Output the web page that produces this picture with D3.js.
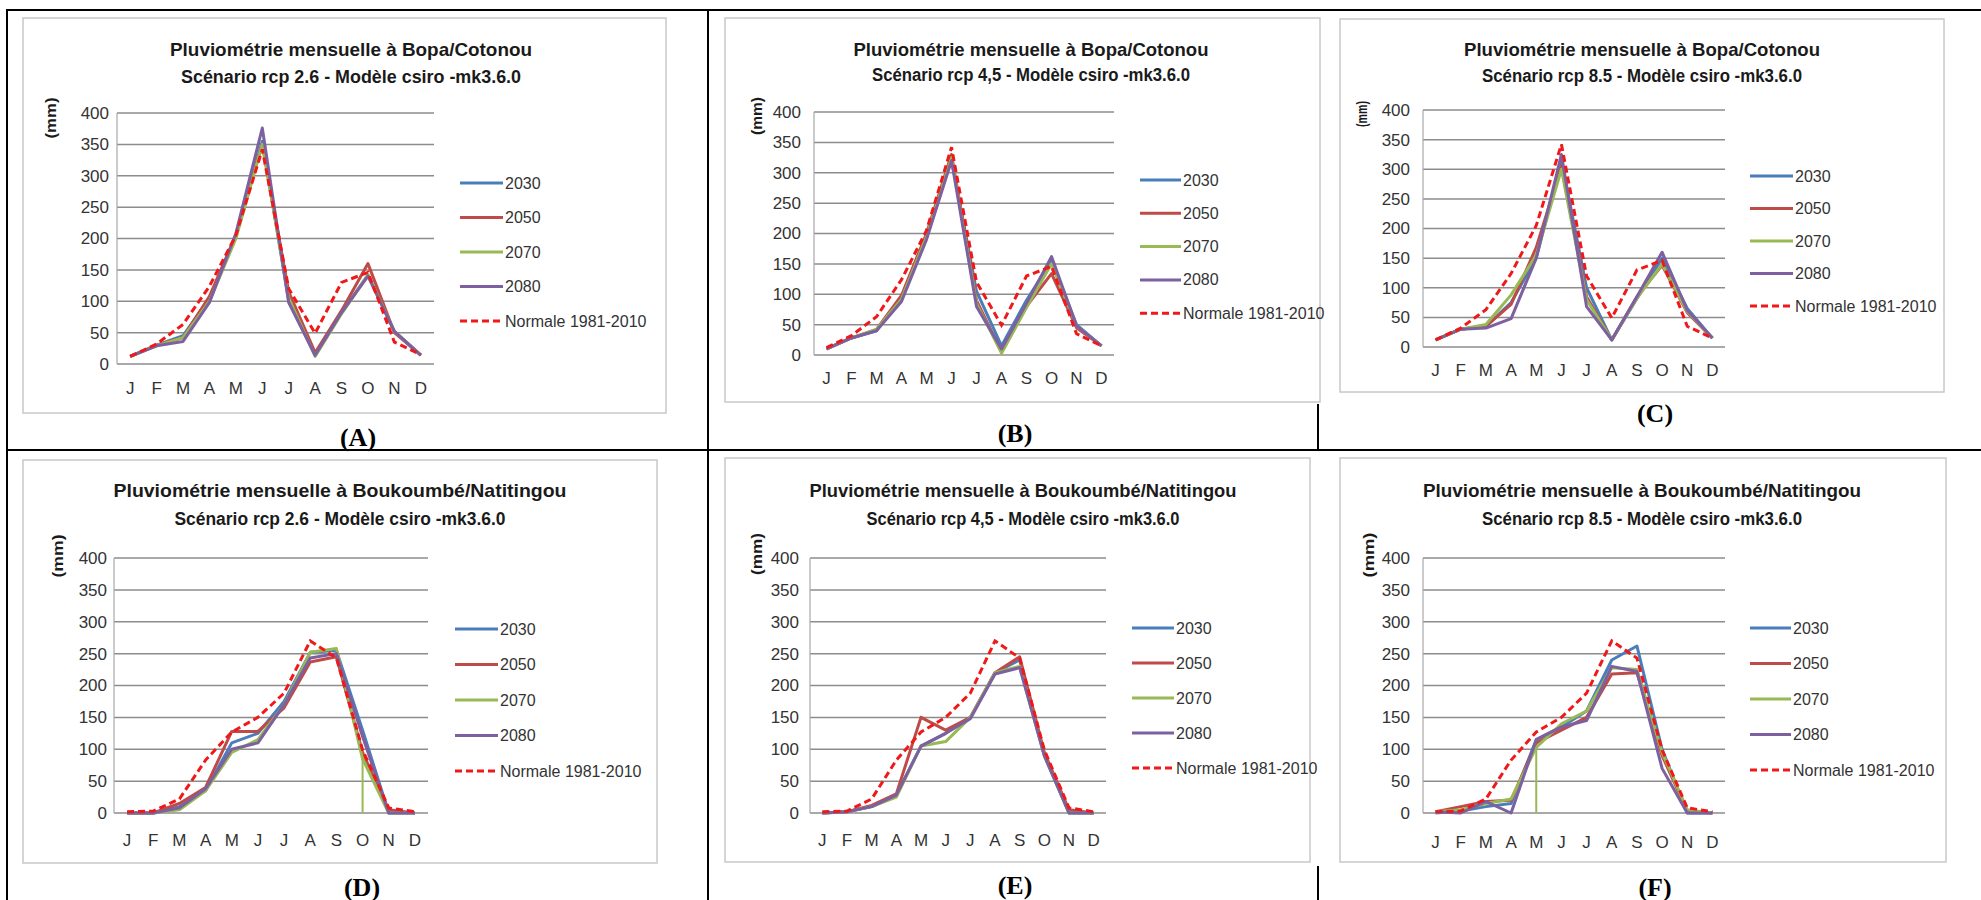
<!DOCTYPE html>
<html>
<head>
<meta charset="utf-8">
<script src="https://cdn.jsdelivr.net/npm/d3@7"></script>
<style>
  body { margin: 0; background: #fff; }
  svg { display: block; }
</style>
</head>
<body>
<svg id="fig"></svg>
<script>
const mois = ['J', 'F', 'M', 'A', 'M', 'J', 'J', 'A', 'S', 'O', 'N', 'D'];
const annees = ['2030', '2050', '2070', '2080'];
const normaleLabel = 'Normale 1981-2010';
const yTicks = [0, 50, 100, 150, 200, 250, 300, 350, 400];

const stations = ['Bopa/Cotonou', 'Boukoumbé/Natitingou'];
const scenarios = ['rcp 2.6', 'rcp 4,5', 'rcp 8.5'];
const lettres = ['A', 'B', 'C', 'D', 'E', 'F'];

// normales 1981-2010 (mm)
const normaleBopa = [12, 32, 63, 124, 205, 342, 120, 49, 130, 146, 35, 15];
const normaleBoukoumbe = [2, 3, 22, 83, 127, 150, 188, 270, 243, 99, 8, 2];

// projections, une ligne par horizon : 2030, 2050, 2070, 2080
const bopa26 = [
  [12, 30, 45, 105, 205, 355, 100, 15, 82, 142, 52, 14],
  [12, 30, 42, 108, 205, 350, 115, 18, 85, 160, 50, 14],
  [12, 29, 42, 100, 200, 350, 105, 12, 80, 142, 52, 14],
  [12, 29, 36, 98, 208, 376, 98, 14, 82, 140, 52, 14]
];
const bopa45 = [
  [10, 28, 40, 95, 195, 322, 105, 15, 90, 155, 50, 15],
  [10, 28, 42, 98, 200, 330, 90, 5, 80, 134, 45, 15],
  [10, 28, 42, 92, 195, 325, 85, 3, 78, 150, 48, 15],
  [10, 28, 40, 88, 190, 320, 80, 10, 85, 162, 48, 15]
];
const bopa85 = [
  [12, 30, 35, 75, 150, 315, 100, 12, 82, 150, 65, 15],
  [12, 30, 35, 72, 168, 305, 85, 12, 85, 138, 58, 15],
  [12, 30, 38, 88, 155, 300, 80, 12, 82, 140, 60, 15],
  [12, 30, 32, 48, 150, 325, 68, 12, 85, 160, 62, 15]
];
const bouk26 = [
  [0, 0, 10, 35, 110, 125, 175, 252, 255, 130, 0, 0],
  [0, 0, 15, 40, 128, 128, 165, 237, 245, 95, 5, 0],
  [0, 0, 5, 35, 95, 115, 170, 252, 258, 85, 0, 0],
  [0, 0, 8, 38, 100, 110, 170, 243, 250, 120, 0, 0]
];
const bouk45 = [
  [0, 2, 10, 28, 105, 125, 150, 220, 240, 90, 0, 0],
  [0, 2, 12, 30, 150, 130, 150, 220, 245, 95, 5, 0],
  [0, 2, 10, 25, 105, 112, 150, 220, 230, 90, 0, 0],
  [0, 2, 10, 28, 105, 125, 148, 218, 228, 90, 0, 0]
];
const bouk85 = [
  [0, 3, 10, 15, 115, 135, 160, 240, 262, 100, 0, 0],
  [2, 10, 18, 20, 110, 130, 150, 218, 220, 90, 3, 0],
  [2, 5, 15, 22, 103, 140, 160, 228, 225, 95, 5, 0],
  [2, 0, 18, 0, 115, 135, 145, 230, 222, 70, 0, 0]
];
// mois où la série 2070 tombe verticalement à 0 (D et F)
const chute2070 = [null, null, null, 9, null, 4];

const series = [bopa26, bopa45, bopa85, bouk26, bouk45, bouk85];
const normales = [normaleBopa, normaleBopa, normaleBopa, normaleBoukoumbe, normaleBoukoumbe, normaleBoukoumbe];

const couleurs = ['#4a7ebb', '#be4b48', '#98b954', '#7d60a0'];
const rouge = '#f01818';

const [width, height] = [1981, 900];
const svg = d3.select('#fig').attr('width', width).attr('height', height);

// mise en page de chaque graphique (pixels)
const cadres = [
  { frame: [23, 18, 666, 413], plot: [117, 434, 364, 113], titre: [351, 49, 77, 362, 340], mm: [50, 118, 41], tickX: 109, moisY: 388, leg: [460, 503, 183, 34.5], lab: [358, 437] },
  { frame: [725, 18, 1320, 402], plot: [814, 1114, 355, 112], titre: [1031, 49, 75, 355, 318], mm: [756, 116, 38], tickX: 801, moisY: 378, leg: [1140, 1181, 180, 33.3], lab: [1015, 433] },
  { frame: [1340, 19, 1944, 392], plot: [1423, 1725, 347, 110], titre: [1642, 49, 76, 356, 320], mm: [1361, 114, 26], tickX: 1410, moisY: 370, leg: [1750, 1793, 176, 32.5], lab: [1655, 413] },
  { frame: [23, 460, 657, 863], plot: [114, 428, 813, 558], titre: [340, 490, 519, 453, 331], mm: [57, 556, 43], tickX: 107, moisY: 840, leg: [455, 498, 629, 35.5], lab: [362, 887] },
  { frame: [725, 458, 1310, 862], plot: [810, 1106, 813, 558], titre: [1023, 490, 519, 427, 313], mm: [756, 554, 42], tickX: 799, moisY: 840, leg: [1132, 1174, 628, 35], lab: [1015, 885] },
  { frame: [1340, 458, 1946, 862], plot: [1423, 1725, 813, 558], titre: [1642, 490, 519, 438, 320], mm: [1368, 555, 45], tickX: 1410, moisY: 842, leg: [1750, 1791, 628, 35.5], lab: [1655, 887] }
];

const police = "'Liberation Sans', Arial, sans-serif";

cadres.forEach(function(c, k) {
  const g = svg.append('g');
  const donnees = series[k];
  const normale = normales[k];

  // cadre du graphique
  g.append('rect')
    .attr('x', c.frame[0]).attr('y', c.frame[1])
    .attr('width', c.frame[2] - c.frame[0]).attr('height', c.frame[3] - c.frame[1])
    .attr('fill', '#fff').attr('stroke', '#c8c8c8').attr('stroke-width', 1.5);

  const x = d3.scalePoint().domain(d3.range(mois.length)).range([c.plot[0], c.plot[1]]).padding(0.5);
  const y = d3.scaleLinear().domain([0, 400]).range([c.plot[2], c.plot[3]]);

  // titres
  g.append('text')
    .attr('x', c.titre[0]).attr('y', c.titre[1])
    .attr('text-anchor', 'middle').attr('dominant-baseline', 'central')
    .attr('textLength', c.titre[3]).attr('lengthAdjust', 'spacingAndGlyphs')
    .style('font', 'bold 19px ' + police).style('fill', '#1a1a1a')
    .text('Pluviométrie mensuelle à ' + stations[Math.floor(k / 3)]);
  g.append('text')
    .attr('x', c.titre[0]).attr('y', c.titre[2])
    .attr('text-anchor', 'middle').attr('dominant-baseline', 'central')
    .attr('textLength', c.titre[4]).attr('lengthAdjust', 'spacingAndGlyphs')
    .style('font', 'bold 18px ' + police).style('fill', '#1a1a1a')
    .text('Scénario ' + scenarios[k % 3] + ' - Modèle csiro -mk3.6.0');

  // unité
  g.append('text')
    .attr('transform', 'translate(' + c.mm[0] + ',' + c.mm[1] + ') rotate(-90)')
    .attr('text-anchor', 'middle').attr('dominant-baseline', 'central')
    .attr('textLength', c.mm[2]).attr('lengthAdjust', 'spacingAndGlyphs')
    .style('font', 'bold 15px ' + police).style('fill', '#1a1a1a')
    .text('(mm)');

  // grille horizontale
  g.append('g').selectAll('line').data(yTicks).enter().append('line')
    .attr('x1', c.plot[0]).attr('x2', c.plot[1])
    .attr('y1', function(d) { return y(d); }).attr('y2', function(d) { return y(d); })
    .attr('stroke', '#8c8c8c').attr('stroke-width', 1.5);
  g.append('line')
    .attr('x1', c.plot[0]).attr('x2', c.plot[0])
    .attr('y1', y(0)).attr('y2', y(400))
    .attr('stroke', '#a8a8a8').attr('stroke-width', 1.2);

  // axe Y
  g.append('g').attr('transform', 'translate(' + c.tickX + ',0)')
    .call(d3.axisLeft(y).tickValues(yTicks).tickSize(0).tickPadding(0))
    .call(function(a) { a.select('.domain').remove(); })
    .selectAll('text')
    .style('font', '17px ' + police).style('fill', '#333');

  // mois
  g.append('g').selectAll('text').data(mois).enter().append('text')
    .attr('x', function(d, i) { return x(i); }).attr('y', c.moisY)
    .attr('text-anchor', 'middle').attr('dominant-baseline', 'central')
    .style('font', '17px ' + police).style('fill', '#333')
    .text(function(d) { return d; });

  const ligne = d3.line()
    .x(function(d, i) { return x(i); })
    .y(function(d) { return y(d); });

  // séries projetées
  donnees.forEach(function(s, j) {
    g.append('path')
      .attr('d', ligne(s))
      .attr('fill', 'none').attr('stroke', couleurs[j])
      .attr('stroke-width', 3).attr('stroke-linejoin', 'round');
  });

  if (chute2070[k] !== null) {
    const m = chute2070[k];
    g.append('line')
      .attr('x1', x(m)).attr('x2', x(m))
      .attr('y1', y(donnees[2][m])).attr('y2', y(0))
      .attr('stroke', couleurs[2]).attr('stroke-width', 2);
  }

  // normale
  g.append('path')
    .attr('d', ligne(normale))
    .attr('fill', 'none').attr('stroke', rouge)
    .attr('stroke-width', 3).attr('stroke-dasharray', '7,4');

  // légende
  const items = annees.concat([normaleLabel]);
  const leg = g.append('g').selectAll('g').data(items).enter().append('g')
    .attr('transform', function(d, i) { return 'translate(0,' + (c.leg[2] + i * c.leg[3]) + ')'; });
  leg.append('line')
    .attr('x1', c.leg[0]).attr('x2', c.leg[1])
    .attr('stroke', function(d, i) { return i < 4 ? couleurs[i] : rouge; })
    .attr('stroke-width', 3)
    .attr('stroke-dasharray', function(d, i) { return i < 4 ? null : '7,4'; });
  leg.append('text')
    .attr('x', c.leg[1] + 2).attr('dominant-baseline', 'central')
    .style('font', '16px ' + police).style('fill', '#333')
    .text(function(d) { return d; });

  // lettre du panneau
  g.append('text')
    .attr('x', c.lab[0]).attr('y', c.lab[1])
    .attr('text-anchor', 'middle').attr('dominant-baseline', 'central')
    .style('font', "bold 26px 'Liberation Serif', 'Times New Roman', serif")
    .style('fill', '#000')
    .text('(' + lettres[k] + ')');
});

// bordures du tableau
const traits = [
  [6, 10, 1981, 10],
  [7, 10, 7, 900],
  [708, 10, 708, 900],
  [6, 450, 1981, 450],
  [1318, 404, 1318, 450],
  [1318, 866, 1318, 900]
];
svg.append('g').selectAll('line').data(traits).enter().append('line')
  .attr('x1', function(d) { return d[0]; }).attr('y1', function(d) { return d[1]; })
  .attr('x2', function(d) { return d[2]; }).attr('y2', function(d) { return d[3]; })
  .attr('stroke', '#000').attr('stroke-width', 2);
</script>
</body>
</html>
